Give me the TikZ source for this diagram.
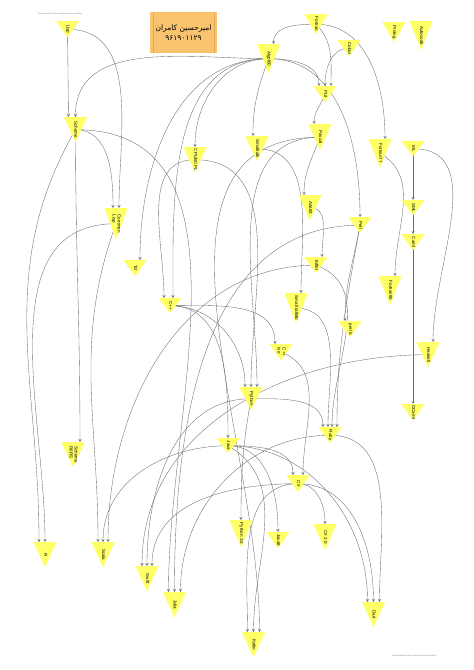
\documentclass[tikz,border=0pt]{standalone}
\usepackage{fontspec}
\setmainfont{Liberation Sans}
\newfontfamily\persianfont[Script=Arabic]{DejaVu Sans}
\TeXXeTstate=1
\usepackage{graphicx}
\usepackage{tikz}
\usetikzlibrary{arrows, shapes, calc}
\definecolor{langyellow}{RGB}{255,255,102}
\definecolor{titleorange}{RGB}{250,196,110}
\definecolor{titleedge}{RGB}{226,168,88}
\definecolor{linkgray}{RGB}{105,105,105}
\pgfdeclarelayer{background}
\pgfdeclarelayer{links}
\pgfsetlayers{background,links,main}
\tikzstyle{arrow} = [draw=linkgray, line width=0.35pt, ->, >=stealth]
\tikzstyle{lang} = [rectangle, anchor=north, inner sep=0pt, minimum width=23pt, minimum height=16pt, font=\fontsize{4.5}{5}\selectfont, path picture={\fill[langyellow] (path picture bounding box.north west) -- (path picture bounding box.north east) -- (path picture bounding box.south) -- cycle;}]
\tikzstyle{title} = [rectangle, fill=titleorange, minimum width=67pt, minimum height=41pt, align=center, font=\persianfont\fontsize{7.5}{10}\selectfont]
\tikzstyle{watermark} = [inner sep=0pt, text=gray, font=\fontsize{2}{2}\selectfont]
\newcommand{\langname}[1]{\rotatebox{-90}{\begin{tabular}{@{}l@{}}#1\end{tabular}}}

\begin{document}
\begin{tikzpicture}[x=1pt, y=1pt]
        \useasboundingbox (0,0) rectangle (474,-670);
        \begin{pgfonlayer}{background}
        \fill [white] (0,0) rectangle (474,-670);
        \end{pgfonlayer}

        \node (wmtop) [watermark] at (60,-14) {Visual Paradigm Online Diagrams Express Edition};
        \node (wmbottom) [watermark] at (414,-656) {Visual Paradigm Online Diagrams Express Edition};
        \node (title) [title] at (183.5,-32.5) {\beginR امیرحسین کامران\endR\\۹۶۱۹۰۱۱۲۹};
        \draw [titleedge] ([xshift=3pt]title.north west) -- ([xshift=3pt]title.south west);
        \draw [titleedge] ([xshift=-3pt]title.north east) -- ([xshift=-3pt]title.south east);

        % first generation
        \node (lisp) [lang] at (67.5,-21) {\langname{Lisp}};
        \node (fortran) [lang, minimum height=20pt] at (316,-14) {\langname{Fortran}};
        \node (cobol) [lang] at (349,-40) {\langname{Cobol}};
        \node (prolog) [lang, minimum height=20pt] at (394,-22) {\langname{Prolog}};
        \node (autocode) [lang, minimum height=29pt] at (421,-21) {\langname{Autocode}};
        \node (algol60) [lang, minimum height=29pt] at (268.5,-44) {\langname{Algol60}};
        \node (pli) [lang] at (325,-86) {\langname{PL/I}};
        \node (scheme) [lang, minimum height=25pt] at (75.5,-117) {\langname{Scheme}};
        \node (cpl) [lang, minimum height=25pt] at (195,-147) {\langname{CPL/BCPL}};
        \node (smalltalk) [lang, minimum height=25pt] at (257,-136) {\langname{Smalltalk}};
        \node (pascal) [lang, minimum height=26pt] at (320,-124) {\langname{Pascal}};
        \node (fortran77) [lang, minimum height=28pt] at (380,-139) {\langname{Fortran77}};
        \node (ml) [lang, minimum height=15pt] at (413,-141) {\langname{ML}};
        \node (commonlisp) [lang, minimum height=31pt] at (116,-208) {\langname{Common\\Lisp}};
        \node (ada83) [lang, minimum height=25pt] at (310,-195) {\langname{Ada83}};
        \node (perl) [lang] at (360,-217) {\langname{Perl}};
        \node (sml) [lang, minimum height=15pt] at (413,-200) {\langname{SML}};
        \node (caml) [lang] at (413,-234) {\langname{Caml}};
        \node (tcl) [lang] at (135,-260) {\langname{Tcl}};
        \node (cpp) [lang, minimum height=15pt] at (170,-298) {\langname{C++}};
        \node (eiffel) [lang] at (316,-257) {\langname{Eiffel}};
        \node (fortran90) [lang, minimum height=29pt] at (390,-276) {\langname{Fortran90}};
        \node (smalltalk80) [lang, minimum height=30pt] at (296,-293) {\langname{Small talk80}};
        \node (perl5) [lang] at (350,-321) {\langname{perl 5}};
        \node (cppiso) [lang] at (281,-344) {\langname{C++\\iso}};
        \node (haskell) [lang, minimum height=25pt] at (428,-342) {\langname{Haskell}};
        \node (python) [lang, minimum height=23pt] at (251,-387) {\langname{Python}};
        \node (ocaml) [lang] at (413,-404) {\langname{OCaml}};
        \node (ruby) [lang] at (330,-427) {\langname{Ruby}};
        \node (schemer6rs) [lang, minimum height=25pt] at (73,-442) {\langname{Scheme\\R6RS}};
        \node (java) [lang, minimum height=15pt] at (228,-438) {\langname{Java}};
        \node (csharp) [lang, minimum height=17pt] at (298,-475) {\langname{C\#}};
        % newest
        \node (r) [lang, minimum height=25pt] at (45,-542) {\langname{R}};
        \node (scala) [lang, minimum height=25pt] at (103,-542) {\langname{Scala}};
        \node (swift) [lang, minimum height=25pt] at (147,-566) {\langname{Swift}};
        \node (julia) [lang, minimum height=25pt] at (174.5,-592) {\langname{Julia}};
        \node (python3) [lang, minimum height=27pt] at (241,-520) {\langname{Python 3.0}};
        \node (java8) [lang] at (278,-532) {\langname{Java8}};
        \node (csharp2) [lang, minimum height=26pt] at (325,-524) {\langname{C\# 2.0}};
        \node (dart) [lang, minimum height=25pt] at (373.5,-602) {\langname{Dart}};
        \node (kotlin) [lang, minimum height=25pt] at (253.5,-632) {\langname{Kotlin}};

        \begin{pgfonlayer}{links}
        \draw [arrow] (fortran.center) to[out=180, in=90] ([xshift=5pt]algol60.north);
        \draw [arrow] (fortran.center) to[out=-45, in=90] ([xshift=6pt]pli.north);
        \draw [arrow] (cobol.center) to[out=180, in=90] (pli.north);
        \draw [arrow] (algol60.center) to[out=0, in=90] ([xshift=-6pt]pli.north);
        \draw [arrow] (fortran.center) to[out=0, in=90] ([xshift=5pt]fortran77.north);
        \draw [arrow] (algol60.center) to[out=180, in=90] (scheme.north);
        \draw [arrow] (algol60.center) to[out=180, in=90] (cpl.north);
        \draw [arrow] (algol60.center) to[out=-110, in=90] ([xshift=-4pt]smalltalk.north);
        \draw [arrow] (algol60.center) to[out=0, in=90] (perl.north);
        \draw [arrow] (algol60.center) to[out=180, in=90] ([xshift=5pt]tcl.north);
        \draw [arrow] (algol60.center) to[out=180, in=90] ([xshift=3pt]cpp.north);
        \draw [arrow] (lisp.center) -- ([xshift=-7pt]scheme.north);
        \draw [arrow] (lisp.center) to[out=0, in=90] ([xshift=3pt]commonlisp.north);
        \draw [arrow] (scheme.center) to[out=0, in=90] ([xshift=-3pt]commonlisp.north);
        \draw [arrow] (scheme.center) to[out=-120, in=90] ([xshift=-6pt]r.north);
        \draw [arrow] (scheme.center) to[out=-90, in=90] ([xshift=7pt]schemer6rs.north);
        \draw [arrow] (scheme.center) to[out=0, in=90] ([xshift=-6pt]julia.north);
        \draw [arrow] (commonlisp.center) to[out=180, in=90] (r.north);
        \draw [arrow] (commonlisp.center) to[out=-110, in=90] ([xshift=-5pt]scala.north);
        \draw [arrow] (pli.center) to[out=-110, in=90] ([xshift=-6pt]pascal.north);
        \draw [arrow] (pascal.center) to[out=-110, in=90] ([xshift=-6pt]ada83.north);
        \draw [arrow] (pascal.center) to[out=180, in=90] ([xshift=6pt]python.north);
        \draw [arrow] (pascal.center) to[out=180, in=90] ([xshift=6pt]kotlin.north);
        \draw [arrow] (ada83.center) to[out=0, in=90] ([xshift=6pt]eiffel.north);
        \draw [arrow] (smalltalk.center) to[out=0, in=90] ([xshift=5pt]smalltalk80.north);
        \draw [arrow] (cpl.center) to[out=180, in=90] ([xshift=-6pt]cpp.north);
        \draw [arrow] (cpl.center) to[out=0, in=90] (python.north);
        \draw [arrow] (fortran77.center) to[out=-30, in=90] ([xshift=5pt]fortran90.north);
        \draw [arrow] (ml.center) -- (sml.north);
        \draw [arrow] (sml.center) -- (caml.north);
        \draw [arrow] (caml.center) -- (ocaml.north);
        \draw [arrow] (ml.center) to[out=0, in=90] ([xshift=5pt]haskell.north);
        \draw [arrow] (perl.center) to[out=-100, in=90] ([xshift=-5pt]perl5.north);
        \draw [arrow] (perl.center) to[out=-100, in=90] ([xshift=7pt]ruby.north);
        \draw [arrow] (perl.center) to[out=180, in=90] (julia.north);
        \draw [arrow] (eiffel.center) to[out=-20, in=90] ([xshift=2pt]ruby.north);
        \draw [arrow] (eiffel.center) to[out=180, in=90] ([xshift=5pt]scala.north);
        \draw [arrow] (smalltalk80.center) to[out=0, in=90] ([xshift=-2pt]ruby.north);
        \draw [arrow] (cpp.center) to[out=0, in=90] ([xshift=-6pt]python.north);
        \draw [arrow] (cpp.center) to[out=0, in=90] ([xshift=-6pt]cppiso.north);
        \draw [arrow] (cpp.center) to[out=0, in=90] (java.north);
        \draw [arrow] (python.center) to[out=0, in=90] ([xshift=-7pt]ruby.north);
        \draw [arrow] (python.center) to[out=-100, in=90] (python3.north);
        \draw [arrow] (python.center) to[out=180, in=90] (swift.north);
        \draw [arrow] (haskell.center) to[out=180, in=90] ([xshift=-5pt]swift.north);
        \draw [arrow] (cppiso.center) to[out=-20, in=90] ([xshift=5pt]csharp.north);
        \draw [arrow] (java.center) to[out=0, in=90] ([xshift=-5pt]csharp.north);
        \draw [arrow] (java.center) to[out=0, in=90] (java8.north);
        \draw [arrow] (java.center) to[out=0, in=90] ([xshift=-6pt]dart.north);
        \draw [arrow] (java.center) to[out=-30, in=90] (kotlin.north);
        \draw [arrow] (java.center) to[out=180, in=90] (scala.north);
        \draw [arrow] (csharp.center) to[out=0, in=90] (csharp2.north);
        \draw [arrow] (csharp.center) to[out=0, in=90] (dart.north);
        \draw [arrow] (csharp.center) to[out=180, in=90] ([xshift=-6pt]kotlin.north);
        \draw [arrow] (csharp.center) to[out=180, in=90] ([xshift=5pt]swift.north);
        \draw [arrow] (ruby.center) to[out=0, in=90] ([xshift=6pt]dart.north);
        \draw [arrow] (ruby.center) to[out=180, in=90] ([xshift=6pt]julia.north);
        \end{pgfonlayer}
\end{tikzpicture}
\end{document}
